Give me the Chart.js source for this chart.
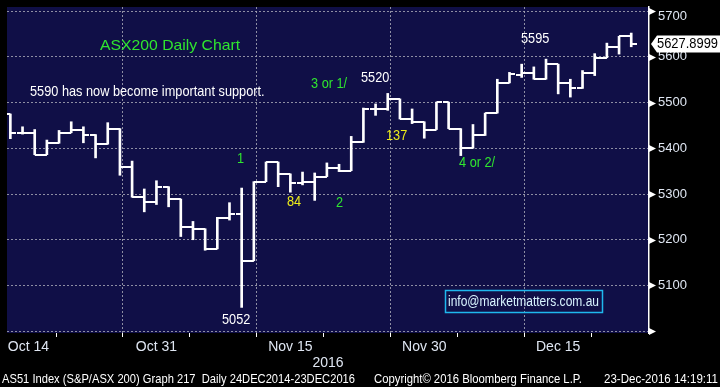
<!DOCTYPE html>
<html><head><meta charset="utf-8">
<script src="https://cdn.jsdelivr.net/npm/chart.js@4.4.0/dist/chart.umd.min.js"></script>
<style>html,body{margin:0;padding:0;background:#000;overflow:hidden}#wrap{width:720px;height:387px;position:relative}</style>
</head><body><div id="wrap"><canvas id="c" width="720" height="387"></canvas></div>
<script>
// ---- data (ASX200 daily OHLC, 13 Oct 2016 .. 23 Dec 2016) ----
const dayLabels = ['13 Oct','14 Oct','17 Oct','18 Oct','19 Oct','20 Oct','21 Oct','24 Oct','25 Oct','26 Oct','27 Oct','28 Oct','31 Oct',
 '1 Nov','2 Nov','3 Nov','4 Nov','7 Nov','8 Nov','9 Nov','10 Nov','11 Nov','14 Nov','15 Nov','16 Nov','17 Nov','18 Nov',
 '21 Nov','22 Nov','23 Nov','24 Nov','25 Nov','28 Nov','29 Nov','30 Nov',
 '1 Dec','2 Dec','5 Dec','6 Dec','7 Dec','8 Dec','9 Dec','12 Dec','13 Dec','14 Dec','15 Dec','16 Dec','19 Dec','20 Dec','21 Dec','22 Dec','23 Dec'];
const openV  = [5475,5434,5434,5386,5411,5434,5441,5430,5409,5443,5359,5293,5282,5316,5289,5227,5224,5180,5248,5257,5154,5327,5370,5344,5325,5326,5338,5357,5351,5413,5486,5486,5508,5464,5458,5441,5501,5443,5400,5428,5477,5543,5561,5565,5551,5584,5542,5531,5565,5598,5621,5645];
const highV  = [5475,5447,5441,5418,5439,5458,5447,5430,5456,5443,5372,5311,5329,5316,5289,5240,5224,5249,5281,5313,5327,5370,5370,5344,5348,5346,5368,5365,5426,5488,5497,5520,5508,5486,5458,5501,5501,5443,5452,5477,5551,5566,5584,5578,5595,5584,5551,5570,5607,5630,5645,5652];
const lowV   = [5421,5431,5386,5386,5411,5434,5412,5379,5409,5341,5293,5261,5277,5272,5207,5200,5177,5180,5243,5052,5154,5327,5316,5304,5320,5286,5338,5349,5351,5413,5472,5483,5464,5454,5422,5441,5443,5384,5400,5428,5477,5543,5555,5551,5551,5519,5512,5531,5559,5598,5606,5622];
const closeV = [5434,5434,5386,5411,5434,5441,5430,5409,5443,5359,5293,5282,5316,5289,5227,5224,5180,5248,5257,5154,5327,5370,5344,5325,5326,5338,5357,5351,5413,5486,5486,5508,5464,5458,5441,5501,5443,5400,5428,5477,5543,5562,5565,5551,5584,5542,5531,5565,5598,5621,5645,5627.8999];
const lastPriceText = '5627.8999';

const xMajorIdx  = [1, 12, 23, 34, 45];
const xMajorText = ['Oct 14','Oct 31','Nov 15','Nov 30','Dec 15'];
const xMinorIdx  = [6.5, 17.5, 28.5, 39.5, 50.5];
const yTickVals  = [5000,5050,5100,5150,5200,5250,5300,5350,5400,5450,5500,5550,5600,5650,5700];
const yMajorVals = [5000,5100,5200,5300,5400,5500,5600,5700];
const yLabelVals = [5100,5200,5300,5400,5500,5600,5700];
const xTitle = '2016';
const footerTexts = ['AS51 Index (S&P/ASX 200) Graph 217  Daily 24DEC2014-23DEC2016','Copyright\u00A9 2016 Bloomberg Finance L.P.','23-Dec-2016 14:19:11'];

const ARIAL = "'Liberation Sans',Arial,sans-serif";
const NAVY = '#100f47';
const GRID = 'rgba(165,165,180,0.85)';
const GREEN = '#2fe62f', YELLOW = '#ecec1a', WHITE = '#ffffff';
const LABEL = '#dfe6f2';

// annotations: [text, x, y, colour, px size, horizontal squeeze]
const notes = [
  ['ASX200 Daily Chart', 100, 46, GREEN, 15, 1.05],
  ['5590 has now become important support.', 30, 92, WHITE, 15, 0.85],
  ['3 or 1/', 311, 84, GREEN, 15, 0.85],
  ['5520', 361, 78, WHITE, 15, 0.85],
  ['1', 237, 159, GREEN, 15, 0.85],
  ['84', 287, 202, YELLOW, 15, 0.85],
  ['2', 336, 203, GREEN, 15, 0.85],
  ['137', 386, 136, YELLOW, 15, 0.85],
  ['4 or 2/', 459, 163, GREEN, 15, 0.85],
  ['5595', 521, 39, WHITE, 15, 0.85],
  ['5052', 222, 320, WHITE, 15, 0.85]
];
const infoText = 'info@marketmatters.com.au';

function tickCanvas(side){
  const c = document.createElement('canvas');
  c.width = 12; c.height = 2;
  const g = c.getContext('2d');
  g.fillStyle = '#ffffff';
  if (side === 'open') g.fillRect(0,0,6,2); else g.fillRect(6,0,6,2);
  return c;
}
const openImg = tickCanvas('open'), closeImg = tickCanvas('close');
const idx = dayLabels.map((d,i)=>i);

function squeezeText(ctx, text, x, y, size, sx, align){
  ctx.save();
  ctx.font = size + 'px ' + ARIAL;
  ctx.translate(x, y); ctx.scale(sx, 1);
  ctx.textAlign = align || 'left';
  ctx.fillText(text, 0, 0);
  ctx.restore();
}
function fitText(ctx, text, x0, x1, y, size){
  ctx.save();
  ctx.font = size + 'px ' + ARIAL;
  const w = ctx.measureText(text).width;
  ctx.restore();
  squeezeText(ctx, text, x0, y, size, (x1 - x0) / w, 'left');
}

const bgPlugin = {
  id:'bg',
  beforeDraw(chart){
    const {ctx, chartArea:a} = chart;
    ctx.save();
    ctx.fillStyle = '#000'; ctx.fillRect(0,0,chart.width,chart.height);
    ctx.fillStyle = NAVY; ctx.fillRect(a.left,a.top,a.right-a.left,a.bottom-a.top);
    ctx.restore();
  }
};
const decoPlugin = {
  id:'deco',
  afterDraw(chart){
    const {ctx, chartArea:a} = chart;
    const ys = chart.scales.y;
    ctx.save();
    ctx.fillStyle = '#fff';
    yMajorVals.forEach(v=>{
      const p = Math.round(ys.getPixelForValue(v));
      ctx.beginPath(); ctx.moveTo(a.right, p-3); ctx.lineTo(a.right+7, p+0.5); ctx.lineTo(a.right, p+4); ctx.closePath(); ctx.fill();
    });
    ctx.textBaseline = 'middle';
    notes.forEach(n=>{ ctx.fillStyle = n[3]; squeezeText(ctx, n[0], n[1], n[2], n[4], n[5]); });
    // info box
    ctx.strokeStyle = '#1fb8ee'; ctx.lineWidth = 1.5;
    ctx.strokeRect(445.5, 290.5, 157, 22);
    ctx.fillStyle = '#d8f4ff';
    fitText(ctx, infoText, 448, 599, 302, 14);
    // last price tag
    const py = ys.getPixelForValue(closeV[closeV.length-1]);
    ctx.fillStyle = '#fff';
    ctx.beginPath(); ctx.moveTo(a.right+2, py); ctx.lineTo(a.right+8, py-8.5); ctx.lineTo(chart.width, py-8.5); ctx.lineTo(chart.width, py+8.5); ctx.lineTo(a.right+8, py+8.5); ctx.closePath(); ctx.fill();
    ctx.fillStyle = '#000';
    fitText(ctx, lastPriceText, a.right+8, 718, py+0.5, 14);
    // footer
    ctx.fillStyle = '#fff';
    fitText(ctx, footerTexts[0], 2, 355, 379, 13);
    fitText(ctx, footerTexts[1], 374, 582, 379, 13);
    fitText(ctx, footerTexts[2], 604, 718, 379, 13);
    ctx.restore();
  }
};

const zeroPad = s => { s.paddingLeft = 0; s.paddingRight = 0; s.paddingTop = 0; s.paddingBottom = 0; };

new Chart(document.getElementById('c'), {
  type:'bar',
  data:{
    datasets:[
      {type:'bar', label:'High-Low', data: idx.map(i=>({x:i, y:[lowV[i], highV[i]]})), backgroundColor:'#fff', borderWidth:0, barThickness:2, grouped:false, order:3},
      {type:'scatter', label:'Open', data: idx.map(i=>({x:i, y:openV[i]})), pointStyle: openImg, pointRadius:6, order:1},
      {type:'scatter', label:'Close', data: idx.map(i=>({x:i, y:closeV[i]})), pointStyle: closeImg, pointRadius:6, order:2}
    ]
  },
  options:{
    responsive:false, animation:false, devicePixelRatio:1,
    layout:{padding:0},
    plugins:{legend:{display:false}, tooltip:{enabled:false}},
    scales:{
      x:{
        type:'linear', min:-0.276, max:52.46, offset:false,
        afterBuildTicks(s){ s.ticks = xMajorIdx.concat(xMinorIdx).sort((a,b)=>a-b).map(v=>({value:v})); },
        afterFit(s){ zeroPad(s); s.height = 54; },
        ticks:{ autoSkip:false, maxRotation:0, padding:2, color:LABEL, font:{family:ARIAL, size:14},
          callback(v){ const k = xMajorIdx.indexOf(v); if (k<0) return ''; return k===0 ? '   '+xMajorText[k] : xMajorText[k]; } },
        grid:{ color: c => xMajorIdx.includes(c.tick && c.tick.value) ? GRID : 'transparent', lineWidth:1, tickLength:4, tickColor:'#ffffff', drawTicks:true },
        border:{display:false, dash:[2,2]},
        title:{display:true, text:xTitle, color:LABEL, font:{family:ARIAL, size:14}, padding:{top:0,bottom:15}}
      },
      y:{
        type:'linear', position:'right', min:4996, max:5709,
        afterBuildTicks(s){ s.ticks = yTickVals.map(v=>({value:v})); },
        afterFit(s){ zeroPad(s); s.width = 71; },
        ticks:{ padding:2, color:LABEL, font:{family:ARIAL, size:13, lineHeight:0.85},
          callback(v){ if (!yLabelVals.includes(v)) return ''; return v===yLabelVals[yLabelVals.length-1] ? ['', String(v)] : String(v); } },
        grid:{ color: c => yMajorVals.includes(c.tick && c.tick.value) ? GRID : 'transparent', lineWidth:1, tickLength:7,
          tickColor: c => yMajorVals.includes(c.tick && c.tick.value) ? 'transparent' : '#ffffff', tickBorderDash:[3,20] },
        border:{display:true, color:'#ffffff', width:1.5, dash:[2,2]}
      }
    }
  },
  plugins:[bgPlugin, decoPlugin]
});
</script></body></html>
